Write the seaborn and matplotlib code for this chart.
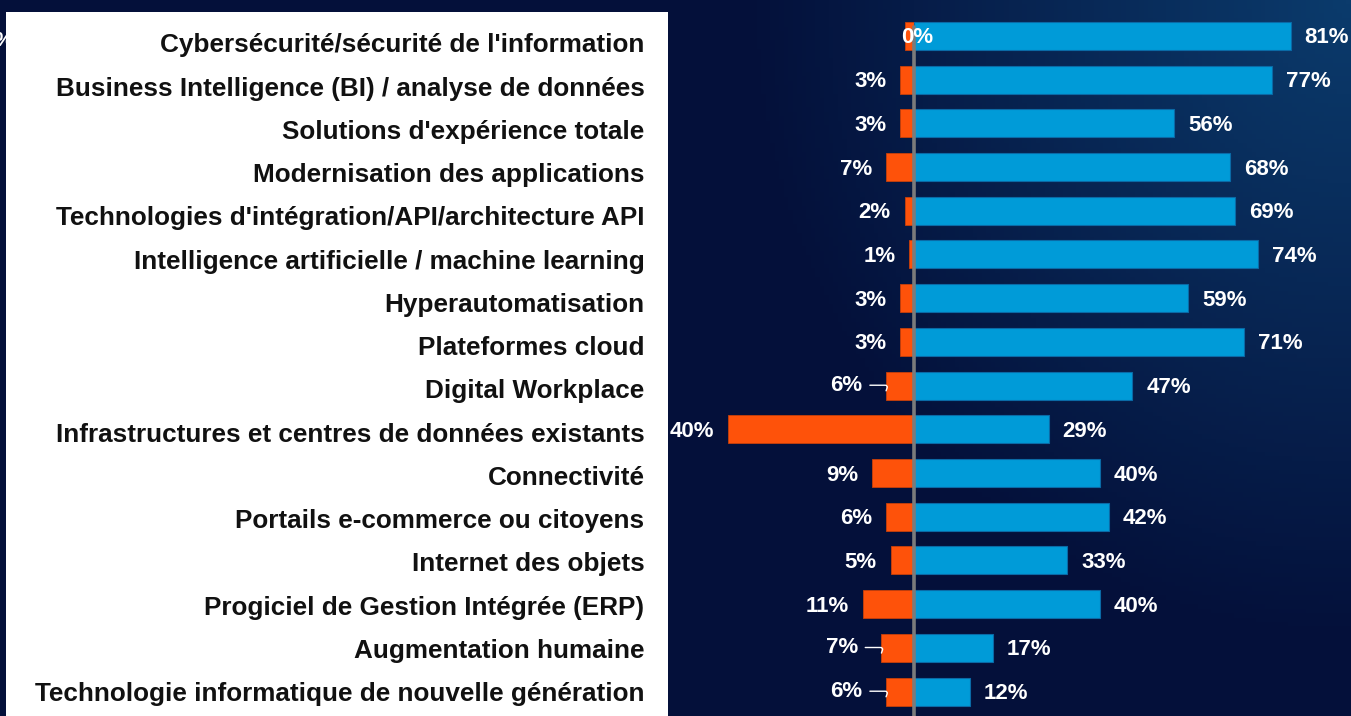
import numpy as np
import pandas as pd
import seaborn as sns
import matplotlib.pyplot as plt
from matplotlib.colors import LinearSegmentedColormap
from matplotlib.patches import Rectangle
from matplotlib.transforms import ScaledTranslation

categories = [
    "Cybersécurité/sécurité de l'information",
    "Business Intelligence (BI) / analyse de données",
    "Solutions d'expérience totale",
    "Modernisation des applications",
    "Technologies d'intégration/API/architecture API",
    "Intelligence artificielle / machine learning",
    "Hyperautomatisation",
    "Plateformes cloud",
    "Digital Workplace",
    "Infrastructures et centres de données existants",
    "Connectivité",
    "Portails e-commerce ou citoyens",
    "Internet des objets",
    "Progiciel de Gestion Intégrée (ERP)",
    "Augmentation humaine",
    "Technologie informatique de nouvelle génération",
]
hausse = [81, 77, 56, 68, 69, 74, 59, 71, 47, 29, 40, 42, 33, 40, 17, 12]
baisse = [0, 3, 3, 7, 2, 1, 3, 3, 6, 40, 9, 6, 5, 11, 7, 6]
# longueur des barres orange telle que dessinée (la première est visible malgré 0%)
baisse_barre = [2, 3, 3, 6, 2, 1, 3, 3, 6, 40, 9, 6, 5, 11, 7, 6]
avec_trait = [8, 14, 15]

df = pd.DataFrame({"cat": categories, "hausse": hausse, "baisse": [-v for v in baisse_barre]})

sns.set_theme(style="white")
plt.rcParams["font.family"] = ["Liberation Sans", "DejaVu Sans"]

fig = plt.figure(figsize=(13.51, 7.16), dpi=100)

# fond dégradé bleu nuit
bg = fig.add_axes([0, 0, 1, 1], zorder=0)
xx, yy = np.meshgrid(np.linspace(0, 1, 300), np.linspace(0, 1, 160))
d = np.clip(1 - np.sqrt(((1 - xx) / 0.45) ** 2 + (yy / 0.9) ** 2), 0, 1)
cmap = LinearSegmentedColormap.from_list("nuit", ["#04103a", "#0b3b6c"])
bg.imshow(d, cmap=cmap, aspect="auto", extent=[0, 1, 1, 0], vmin=0, vmax=1)
bg.set_axis_off()

# panneau blanc des libellés
fig.patches.append(Rectangle((6 / 1351, 0), 662 / 1351, 704 / 716, transform=fig.transFigure,
                             facecolor="white", edgecolor="none", zorder=1))
fig.text(-0.004, 1 - 40 / 716, "%", color="white", fontsize=15, fontweight="bold", va="center")

ax = fig.add_axes([668 / 1351, 0, 683 / 1351, 1], zorder=2)
ax.patch.set_alpha(0)
sns.barplot(data=df, x="baisse", y="cat", color="#fe520a", width=0.64, orient="h",
            saturation=1, ax=ax, edgecolor="#c8400a", linewidth=0.6)
sns.barplot(data=df, x="hausse", y="cat", color="#009bd8", width=0.64, orient="h",
            saturation=1, ax=ax, edgecolor="#0a6aa6", linewidth=0.8)

ax.axvline(0, ymin=0, ymax=1 - 27 / 716, color="#7b7b7b", lw=2.6, zorder=5)
ax.set_xlim(-52.9, 94.0)
ax.set_ylim(15.56, -0.82)

lab_font = dict(color="white", fontsize=16, fontweight="bold", va="center")
for i in range(len(categories)):
    ax.annotate(f"{hausse[i]}%", (hausse[i], i), xytext=(10, -1.5), textcoords="offset points",
                ha="left", **lab_font)
    if i == 0:
        ax.annotate(f"{baisse[i]}%", (0, i), xytext=(2, -1.5), textcoords="offset points",
                    ha="center", zorder=6, **lab_font)
    elif i in avec_trait:
        ax.annotate(f"{baisse[i]}%", (-baisse_barre[i], i + 0.12), xytext=(-17, 4),
                    textcoords="offset points", ha="right",
                    arrowprops=dict(arrowstyle="-", color="white", lw=1, shrinkA=3, shrinkB=0,
                                    connectionstyle="angle,angleA=0,angleB=70,rad=3"),
                    **lab_font)
    else:
        ax.annotate(f"{baisse[i]}%", (-baisse_barre[i], i), xytext=(-10, -1.5),
                    textcoords="offset points", ha="right", **lab_font)

ax.set_xlabel("")
ax.set_ylabel("")
ax.set_xticks([])
ax.tick_params(axis="y", length=0, pad=17)
ax.set_yticks(range(len(categories)))
ax.set_yticklabels(categories, fontsize=18.8, color="#111111", fontweight="bold")
# les libellés du haut sont un peu plus bas que leurs barres dans l'original
n = len(categories)
for i, lab in enumerate(ax.get_yticklabels()):
    lab.set_va("center_baseline")
    dy = 7 * (n - 1 - i) / (n - 1)
    lab.set_transform(lab.get_transform() + ScaledTranslation(0, -dy / 100, fig.dpi_scale_trans))
for s in ax.spines.values():
    s.set_visible(False)

fig.savefig("out.png", dpi=100)
